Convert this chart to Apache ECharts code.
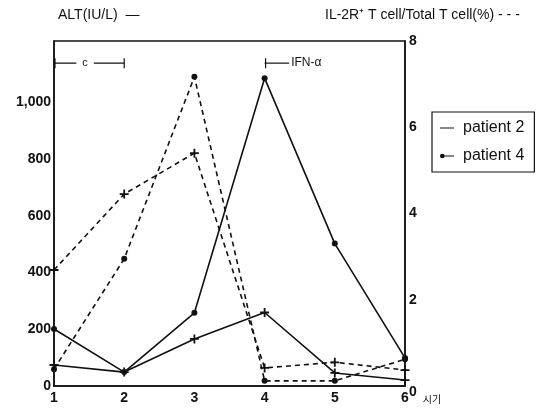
<!DOCTYPE html>
<html>
<head>
<meta charset="utf-8">
<script src="https://cdn.jsdelivr.net/npm/echarts@6/dist/echarts.min.js"></script>
<style>
  html, body { margin: 0; padding: 0; background: #fff; }
  #chart { width: 552px; height: 410px; }
</style>
</head>
<body>
<div id="chart"></div>
<script>
// Time points (시기)
const periods = [1, 2, 3, 4, 5, 6];

// ALT (IU/L), solid lines, left axis
const altPatient2 = [74, 49, 166, 259, 46, 21];
const altPatient4 = [201, 49, 258, 1085, 502, 99];

// IL-2R+ T cell / Total T cell (%), dashed lines, right axis
const il2rPatient2 = [2.69, 4.45, 5.40, 0.42, 0.55, 0.37];
const il2rPatient4 = [0.39, 2.95, 7.17, 0.12, 0.12, 0.62];

// Treatment periods marked above the curves: [from, to, ALT level]
const treatmentLabels = ['c', 'IFN-\u03b1'];
const treatmentSpans = [[1, 2, 1138], [4, 4.35, 1138]];

const FONT = '"Liberation Sans", Arial, sans-serif';
const plusIcon = 'path://M4,0H6V4H10V6H6V10H4V6H0V4H4Z';
// legend icons share one 24x8 box so the line keeps the same thickness
const lineIcon = 'path://M0,3.2H24V4.8H0Z M0,0H0.01V0.01H0Z M0,8H0.01V8.01H0Z';
const dotLineIcon = 'path://M0,3.2H24V4.8H0Z M0,4A4,4 0 1,1 8,4A4,4 0 1,1 0,4Z';

const pairs = (ys) => periods.map((x, i) => [x, ys[i]]);

const chart = echarts.init(document.getElementById('chart'));
chart.setOption({
  animation: false,
  backgroundColor: '#fff',
  title: [
    { text: 'ALT(IU/L)  \u2014', left: 58, top: 8, padding: 0,
      textStyle: { fontFamily: FONT, fontSize: 14, fontWeight: 'normal', color: '#111' } },
    { text: 'IL-2R\u207a T cell/Total T cell(%) - - -', left: 325, top: 8, padding: 0,
      textStyle: { fontFamily: FONT, fontSize: 14, fontWeight: 'normal', color: '#111' } }
  ],
  grid: { left: 54, right: 147, top: 41, bottom: 24, show: true,
          borderColor: '#111', borderWidth: 1.5 },
  legend: {
    data: [
      { name: 'patient 2', icon: lineIcon },
      { name: 'patient 4', icon: dotLineIcon }
    ],
    orient: 'vertical', left: 432, top: 112,
    padding: [8, 10, 8, 8], itemGap: 12, itemWidth: 14, itemHeight: 6,
    borderColor: '#111', borderWidth: 1.2,
    textStyle: { fontFamily: FONT, fontSize: 16, color: '#111', padding: [0, 0, 0, 4] }
  },
  xAxis: {
    type: 'value', min: 1, max: 6, interval: 1,
    name: '\uc2dc\uae30', nameLocation: 'end', nameGap: 16,
    nameTextStyle: { fontFamily: '"Noto Sans CJK KR", sans-serif', fontSize: 10, color: '#111',
                     verticalAlign: 'top', padding: [8, 0, 0, 0] },
    axisLine: { lineStyle: { color: '#111', width: 1.5 } },
    axisTick: { show: false },
    splitLine: { show: false },
    axisLabel: { fontFamily: FONT, fontSize: 14, fontWeight: 'bold', color: '#111', margin: 5 }
  },
  yAxis: [
    {
      type: 'value', min: 0, max: 1216, interval: 200,
      axisLine: { show: true, lineStyle: { color: '#111', width: 1.5 } },
      axisTick: { show: false },
      splitLine: { show: false },
      axisLabel: {
        fontFamily: FONT, fontSize: 14, fontWeight: 'bold', color: '#111', margin: 3,
        formatter: v => v > 1000 ? '' : v.toLocaleString('en-US')
      }
    },
    {
      type: 'value', min: 0, max: 8, interval: 2, position: 'right',
      axisLine: { show: true, lineStyle: { color: '#111', width: 1.5 } },
      axisTick: { show: false },
      splitLine: { show: false },
      axisLabel: {
        fontFamily: FONT, fontSize: 14, fontWeight: 'bold', color: '#111', margin: 4,
        formatter: v => v === 0 ? '{low|0}' : String(v),
        rich: { low: { fontFamily: FONT, fontSize: 14, fontWeight: 'bold', color: '#111', padding: [12, 0, 0, 0] } }
      }
    }
  ],
  series: [
    {
      name: 'patient 2', type: 'line', yAxisIndex: 0, data: pairs(altPatient2),
      symbol: plusIcon, symbolSize: 9,
      lineStyle: { color: '#111', width: 1.6 }, itemStyle: { color: '#111' }
    },
    {
      name: 'patient 4', type: 'line', yAxisIndex: 0, data: pairs(altPatient4),
      symbol: 'circle', symbolSize: 6,
      lineStyle: { color: '#111', width: 1.6 }, itemStyle: { color: '#111' }
    },
    {
      name: 'patient 2', type: 'line', yAxisIndex: 1, data: pairs(il2rPatient2),
      symbol: plusIcon, symbolSize: 9,
      lineStyle: { color: '#111', width: 1.6, type: [5, 4] }, itemStyle: { color: '#111' }
    },
    {
      name: 'patient 4', type: 'line', yAxisIndex: 1, data: pairs(il2rPatient4),
      symbol: 'circle', symbolSize: 6,
      lineStyle: { color: '#111', width: 1.6, type: [5, 4] }, itemStyle: { color: '#111' }
    },
    {
      // treatment period brackets
      type: 'custom', yAxisIndex: 0, silent: true,
      data: treatmentSpans,
      renderItem: function (params, api) {
        const i = params.dataIndex;
        const a = api.coord([api.value(0), api.value(2)]);
        const b = api.coord([api.value(1), api.value(2)]);
        const stroke = { stroke: '#111', lineWidth: 1.2 };
        const children = [
          { type: 'line', shape: { x1: a[0] + 1, y1: a[1] - 5, x2: a[0] + 1, y2: a[1] + 5 }, style: stroke },
          { type: 'line', shape: { x1: a[0], y1: a[1], x2: b[0], y2: b[1] }, style: stroke }
        ];
        if (i === 0) {
          children.push({ type: 'line', shape: { x1: b[0], y1: b[1] - 5, x2: b[0], y2: b[1] + 5 }, style: stroke });
          children.push({ type: 'text', x: (a[0] + b[0]) / 2 - 4, y: a[1],
            style: { text: treatmentLabels[i], fill: '#111', font: '11px ' + FONT,
                     align: 'center', verticalAlign: 'middle',
                     backgroundColor: '#fff', padding: [0, 6] } });
        } else {
          children.push({ type: 'text', x: b[0] + 2, y: b[1],
            style: { text: treatmentLabels[i], fill: '#111', font: '12px ' + FONT,
                     align: 'left', verticalAlign: 'middle' } });
        }
        return { type: 'group', children: children };
      }
    }
  ]
});
</script>
</body>
</html>
